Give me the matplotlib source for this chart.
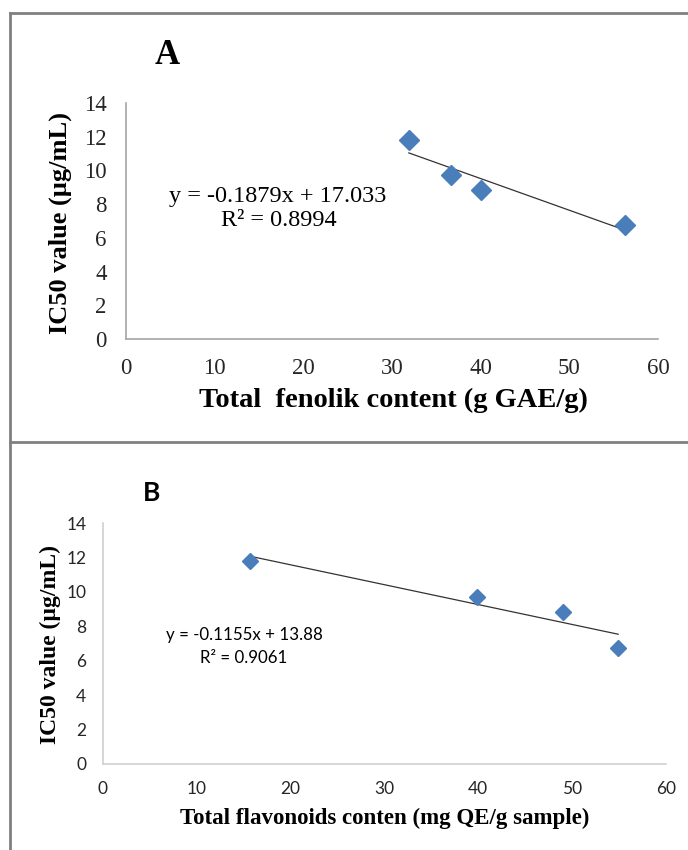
import matplotlib.pyplot as plt
import numpy as np

# IC50 vs total phenolic / flavonoid content (panels A and B)

ic50 = [11.8, 9.7, 8.85, 6.75]
fenolik = [31.9, 36.7, 40.0, 56.3]
flavonoid = [15.7, 39.9, 49.0, 54.9]

# trendline coefficients as printed on the chart
fit_a = (-0.1879, 17.033)
fit_b = (-0.1155, 13.88)
eq_a = ['y = -0.1879x + 17.033', 'R² = 0.8994']
eq_b = ['y = -0.1155x + 13.88', 'R² = 0.9061']

xticks = [0, 10, 20, 30, 40, 50, 60]
yticks = [0, 2, 4, 6, 8, 10, 12, 14]

blue = '#4a7ebb'
serif = 'Liberation Serif'
sans = 'Lato'

W, H = 688, 850
fig = plt.figure(figsize=(W / 100, H / 100), dpi=100)


def box(l, r, b, t):
    # pixel coords -> figure fraction
    return [l / W, 1 - b / H, (r - l) / W, (b - t) / H]


def style_axes(ax, axis_col, font, size, pad):
    ax.set_xlim(0, 60)
    ax.set_ylim(0, 14)
    ax.set_xticks(xticks)
    ax.set_yticks(yticks)
    for s in ['top', 'right']:
        ax.spines[s].set_visible(False)
    for s in ['left', 'bottom']:
        ax.spines[s].set_color(axis_col)
        ax.spines[s].set_linewidth(1.2)
    ax.tick_params(length=0, pad=pad, labelsize=size, colors='#262626')
    for lab in ax.get_xticklabels() + ax.get_yticklabels():
        lab.set_fontfamily(font)
    ax.patch.set_alpha(0)


# panel A
axA = fig.add_axes(box(126, 658, 339, 103))
style_axes(axA, '#a6a6a6', serif, 16.5, 14)
axA.plot(fenolik, ic50, 'D', color=blue, ms=10, mec=blue, zorder=3)
xa = np.array([min(fenolik), max(fenolik)])
axA.plot(xa, fit_a[0] * xa + fit_a[1], color='#333333', lw=0.9, zorder=2)
fig.text(278 / W, 1 - 197 / H, eq_a[0], family=serif, fontsize=17.5, ha='center', va='center')
fig.text(279 / W, 1 - 221 / H, eq_a[1], family=serif, fontsize=17.5, ha='center', va='center')
fig.text(167 / W, 1 - 55 / H, 'A', family=serif, fontsize=25, weight='bold', ha='center', va='center')
fig.text(60 / W, 1 - 223 / H, 'IC50 value (µg/mL)', family=serif, fontsize=19, weight='bold',
         rotation=90, ha='center', va='center')
fig.text(393 / W, 1 - 400 / H, 'Total  fenolik content (g GAE/g)', family=serif, fontsize=20.5,
         weight='bold', ha='center', va='center')

# panel B
axB = fig.add_axes(box(103, 666, 764, 523))
style_axes(axB, '#d0d0d0', sans, 12.5, 12)
axB.plot(flavonoid, ic50, 'D', color=blue, ms=8.5, mec=blue, zorder=3)
xb = np.array([min(flavonoid), max(flavonoid)])
axB.plot(xb, fit_b[0] * xb + fit_b[1], color='#333333', lw=0.9, zorder=2)
fig.text(244 / W, 1 - 635 / H, eq_b[0], family=sans, fontsize=12.2, ha='center', va='center')
fig.text(244 / W, 1 - 658 / H, eq_b[1], family=sans, fontsize=12.2, ha='center', va='center')
fig.text(152 / W, 1 - 493 / H, 'B', family=sans, fontsize=19, weight='bold', ha='center', va='center')
fig.text(50 / W, 1 - 644 / H, 'IC50 value (µg/mL)', family=serif, fontsize=17, weight='bold',
         rotation=90, ha='center', va='center')
fig.text(385 / W, 1 - 818 / H, 'Total flavonoids conten (mg QE/g sample)', family=serif, fontsize=16.5,
         weight='bold', ha='center', va='center')

# outer frame lines
frame = dict(color='#808080', lw=2, transform=fig.transFigure)
fig.add_artist(plt.Line2D([10 / W, 10 / W], [0, 1 - 13 / H], **frame))
fig.add_artist(plt.Line2D([10 / W, 1], [1 - 13 / H, 1 - 13 / H], **frame))
fig.add_artist(plt.Line2D([10 / W, 1], [1 - 442 / H, 1 - 442 / H], **frame))

fig.savefig('out.png', dpi=100)
